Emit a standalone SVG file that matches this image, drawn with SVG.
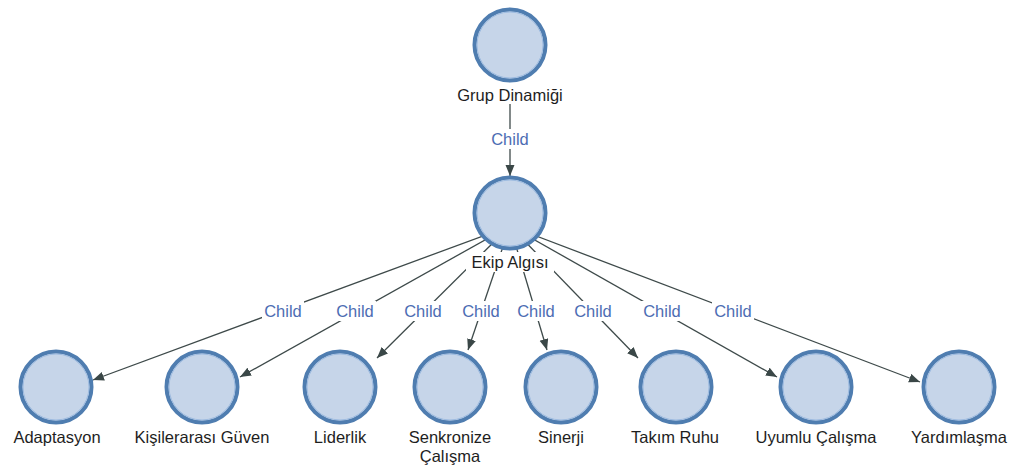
<svg xmlns="http://www.w3.org/2000/svg" width="1016" height="466" viewBox="0 0 1016 466">
  <style>
    .edge { stroke: #3e4a4a; stroke-width: 1.3; fill: none; marker-end: url(#arrow); }
    .elabel { font-family: "Liberation Sans", Arial, sans-serif; font-size: 16.5px; fill: #4d6db3; text-anchor: middle; }
    .lblbg { fill: #ffffff; }
    .node circle { fill: #c6d5e9; stroke: #4f7db0; stroke-width: 4; }
    .node .ring { fill: none; stroke: #9dbbe0; stroke-width: 1; }
    .nlabel { font-family: "Liberation Sans", Arial, sans-serif; font-size: 16.5px; fill: #1e1e1e; text-anchor: middle; }
  </style>
  <defs>
    <marker id="arrow" markerUnits="userSpaceOnUse" markerWidth="12" markerHeight="10" refX="11" refY="4.5" orient="auto">
      <path d="M0,0 L11,4.5 L0,9 z" fill="#3a4747"/>
    </marker>
  </defs>
  <rect width="1016" height="466" fill="#ffffff"/>

  <!-- connectors -->
  <g id="connectors">
    <line class="edge" x1="510" y1="104" x2="510" y2="176"/>
    <line class="edge" x1="510" y1="226" x2="93" y2="380"/>
    <line class="edge" x1="510" y1="226" x2="240" y2="377"/>
    <line class="edge" x1="510" y1="226" x2="377" y2="358"/>
    <line class="edge" x1="510" y1="226" x2="468" y2="350"/>
    <line class="edge" x1="510" y1="226" x2="547" y2="350"/>
    <line class="edge" x1="510" y1="226" x2="638" y2="358"/>
    <line class="edge" x1="510" y1="226" x2="777" y2="377"/>
    <line class="edge" x1="510" y1="226" x2="920" y2="382"/>

    <g id="edge-labels">
      <rect class="lblbg" x="489" y="129" width="42" height="20"/>
      <text class="elabel" x="510" y="145">Child</text>
      <rect class="lblbg" x="262" y="301" width="42" height="20"/>
      <text class="elabel" x="283" y="317">Child</text>
      <rect class="lblbg" x="334" y="301" width="42" height="20"/>
      <text class="elabel" x="355" y="317">Child</text>
      <rect class="lblbg" x="402" y="301" width="42" height="20"/>
      <text class="elabel" x="423" y="317">Child</text>
      <rect class="lblbg" x="460" y="301" width="42" height="20"/>
      <text class="elabel" x="481" y="317">Child</text>
      <rect class="lblbg" x="515" y="301" width="42" height="20"/>
      <text class="elabel" x="536" y="317">Child</text>
      <rect class="lblbg" x="572" y="301" width="42" height="20"/>
      <text class="elabel" x="593" y="317">Child</text>
      <rect class="lblbg" x="641" y="301" width="42" height="20"/>
      <text class="elabel" x="662" y="317">Child</text>
      <rect class="lblbg" x="712" y="301" width="42" height="20"/>
      <text class="elabel" x="733" y="317">Child</text>
    </g>
  </g>

  <!-- nodes -->
  <g id="grup-dinamigi" class="node">
    <circle cx="510" cy="45" r="35.5"/>
    <circle class="ring" cx="510" cy="45" r="33"/>
    <text class="nlabel" x="510" y="101">Grup Dinamiği</text>
  </g>
  <g id="ekip-algisi" class="node">
    <circle cx="510" cy="213" r="35.5"/>
    <circle class="ring" cx="510" cy="213" r="33"/>
    <rect class="lblbg" x="466" y="252" width="88" height="20"/>
    <text class="nlabel" x="510" y="268">Ekip Algısı</text>
  </g>
  <g id="adaptasyon" class="node">
    <circle cx="56" cy="387" r="35.5"/>
    <circle class="ring" cx="56" cy="387" r="33"/>
    <text class="nlabel" x="57" y="443">Adaptasyon</text>
  </g>
  <g id="kisilerarasi-guven" class="node">
    <circle cx="202" cy="387" r="35.5"/>
    <circle class="ring" cx="202" cy="387" r="33"/>
    <text class="nlabel" x="202" y="443">Kişilerarası Güven</text>
  </g>
  <g id="liderlik" class="node">
    <circle cx="340" cy="387" r="35.5"/>
    <circle class="ring" cx="340" cy="387" r="33"/>
    <text class="nlabel" x="340" y="443">Liderlik</text>
  </g>
  <g id="senkronize-calisma" class="node">
    <circle cx="450" cy="387" r="35.5"/>
    <circle class="ring" cx="450" cy="387" r="33"/>
    <text class="nlabel" x="450" y="443">Senkronize</text>
    <text class="nlabel" x="450" y="462">Çalışma</text>
  </g>
  <g id="sinerji" class="node">
    <circle cx="561" cy="387" r="35.5"/>
    <circle class="ring" cx="561" cy="387" r="33"/>
    <text class="nlabel" x="561" y="443">Sinerji</text>
  </g>
  <g id="takim-ruhu" class="node">
    <circle cx="676" cy="387" r="35.5"/>
    <circle class="ring" cx="676" cy="387" r="33"/>
    <text class="nlabel" x="675" y="443">Takım Ruhu</text>
  </g>
  <g id="uyumlu-calisma" class="node">
    <circle cx="816" cy="387" r="35.5"/>
    <circle class="ring" cx="816" cy="387" r="33"/>
    <text class="nlabel" x="816" y="443">Uyumlu Çalışma</text>
  </g>
  <g id="yardimlasma" class="node">
    <circle cx="959" cy="387" r="35.5"/>
    <circle class="ring" cx="959" cy="387" r="33"/>
    <text class="nlabel" x="959" y="443">Yardımlaşma</text>
  </g>
</svg>
